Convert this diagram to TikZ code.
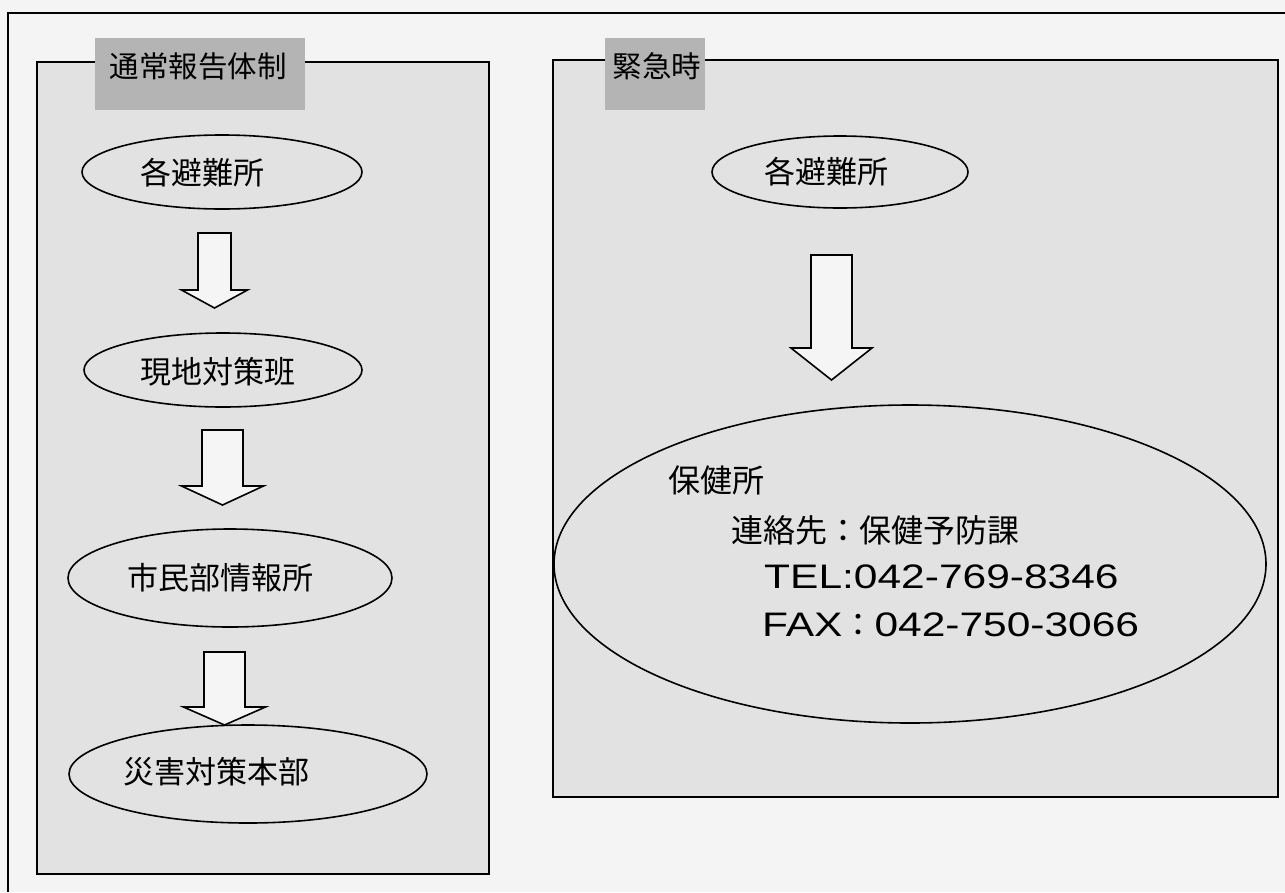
\documentclass[tikz,border=0pt]{standalone}
\usepackage{graphicx}
\usepackage{fontspec}
\setmainfont{Noto Sans CJK JP}
\newfontfamily\latinfont{Liberation Sans}
\usetikzlibrary{shapes.geometric}
\definecolor{pagebg}{HTML}{F4F4F4}
\definecolor{panelbg}{HTML}{E2E2E2}
\definecolor{tabbg}{HTML}{B4B4B4}
\definecolor{arrowfill}{HTML}{F5F5F5}
\tikzset{
  frameline/.style={draw=black, line width=1.6pt},
  panelbox/.style={draw=black, line width=1.6pt, fill=panelbg},
  tabbox/.style={fill=tabbg},
  oval/.style={ellipse, draw=black, line width=1.6pt, inner sep=0pt},
  lbl/.style={inner sep=0pt, font=\fontsize{31}{36}\selectfont},
  tablbl/.style={inner sep=0pt, font=\fontsize{29.5}{34}\selectfont},
  info/.style={inner sep=0pt, anchor=west, font=\fontsize{32}{36}\selectfont},
  blockarr/.style={draw=black, line width=1.6pt, fill=arrowfill, line join=miter},
}
\newcommand\blockarrow[6]{%
  \draw[blockarr] (#1-#5,#2) -- (#1+#5,#2) -- (#1+#5,#3) -- (#1+#6,#3)
    -- (#1,#4) -- (#1-#6,#3) -- (#1-#5,#3) -- cycle;}
\newcommand\widelatin[1]{\scalebox{1.25}[1]{\fontsize{34}{36}\latinfont #1}}
\begin{document}
\begin{tikzpicture}[x=1pt,y=-1pt]
\fill[pagebg] (0,0) rectangle (1285,892);
\useasboundingbox (0,0) rectangle (1285,892);
% outer frame
\coordinate (fr1) at (1285,13);
\coordinate (fr2) at (8,13);
\coordinate (fr3) at (8,892);
\draw[frameline] (fr1) -- (fr2) -- (fr3);
% panels
\draw[panelbox] (37,62) rectangle (489,874);
\draw[panelbox] (553,60) rectangle (1278,797);
% tabs
\fill[tabbox] (95,38) rectangle (305,110);
\node[tablbl] (tab1) at (198,66) {通常報告体制};
\fill[tabbox] (605,38) rectangle (705,110);
\node[tablbl] (tab2) at (657,66) {緊急時};
% left column
\node[oval, minimum width=280pt, minimum height=74pt] (e1) at (222,172) {};
\node[lbl] (e1t) at (202,173) {各避難所};
\blockarrow{214.5}{233}{290}{308}{16.5}{33}
\node[oval, minimum width=278pt, minimum height=74pt] (e2) at (223,370) {};
\node[lbl] (e2t) at (218,372) {現地対策班};
\blockarrow{222.5}{430}{486}{505}{20.5}{41}
\node[oval, minimum width=324pt, minimum height=98pt] (e3) at (230,578) {};
\node[lbl] (e3t) at (220,578) {市民部情報所};
\blockarrow{224.5}{652}{707}{725}{20.5}{41}
\node[oval, minimum width=358pt, minimum height=98pt] (e4) at (248,774) {};
\node[lbl] (e4t) at (216,772) {災害対策本部};
% right column
\node[oval, minimum width=256pt, minimum height=72pt] (e5) at (840,172) {};
\node[lbl] (e5t) at (826,172) {各避難所};
\blockarrow{831.5}{255}{348}{380}{20.5}{40.5}
\node[oval, minimum width=712pt, minimum height=318pt] (e6) at (910,564) {};
\node[info] (i1) at (668,480) {保健所};
\node[info] (i2) at (731,530) {連絡先：保健予防課};
\node[info] (i3) at (764,577) {\widelatin{TEL:042-769-8346}};
\node[info] (i4) at (762,625) {\widelatin{FAX}：\widelatin{042-750-3066}};
\end{tikzpicture}
\end{document}
